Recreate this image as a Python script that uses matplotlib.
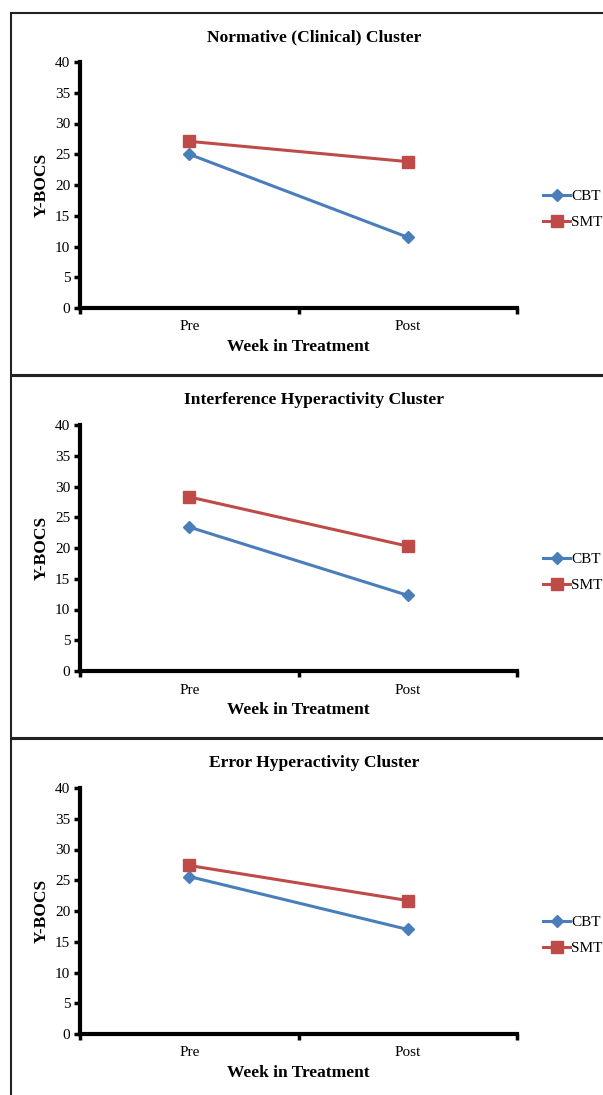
import matplotlib.pyplot as plt
from matplotlib.patches import Rectangle

plt.rcParams['font.family'] = ['Liberation Serif', 'DejaVu Serif']

titles = ["Normative (Clinical) Cluster",
          "Interference Hyperactivity Cluster",
          "Error Hyperactivity Cluster"]
weeks = ["Pre", "Post"]
cbt = [[25.0, 11.5], [23.4, 12.3], [25.6, 17.0]]
smt = [[27.1, 23.8], [28.3, 20.3], [27.4, 21.7]]

W, H = 603, 1095
fig = plt.figure(figsize=(W / 100, H / 100), dpi=100)

blue = "#4A7EBB"
red = "#BE4B48"

# panel frames (pixel coords, top/bottom)
frames = [(13, 375), (376, 738), (739, 1110)]
ax_top = [62, 425, 788]
ax_h = 246
ax_left, ax_right = 80, 517

for i in range(3):
    t, b = frames[i]
    fig.patches.append(Rectangle((11 / W, 1 - b / H), (W + 20) / W, (b - t) / H,
                                 transform=fig.transFigure, fill=False,
                                 ec="#222222", lw=1.5, zorder=0))

    top = ax_top[i]
    ax = fig.add_axes([ax_left / W, 1 - (top + ax_h) / H,
                       (ax_right - ax_left) / W, ax_h / H])
    x = list(range(len(weeks)))
    ax.plot(x, cbt[i], color=blue, lw=2.2, marker="D", ms=6.5, label="CBT")
    ax.plot(x, smt[i], color=red, lw=2.2, marker="s", ms=8.5, label="SMT")

    ax.set_xlim(-0.5, 1.5)
    ax.set_ylim(0, 40)
    ax.set_yticks(range(0, 41, 5))
    ax.set_xticks(x)
    ax.set_xticklabels(weeks)
    ax.set_xticks([-0.5, 0.5, 1.5], minor=True)
    ax.tick_params(axis="x", which="major", length=0, labelsize=11, pad=9)
    ax.tick_params(axis="x", which="minor", length=4, width=2.5, direction="out")
    ax.tick_params(axis="y", length=4, width=2.5, labelsize=11, pad=3)
    for s in ["top", "right"]:
        ax.spines[s].set_visible(False)
    for s in ["left", "bottom"]:
        ax.spines[s].set_linewidth(3)

    ax.set_title(titles[i], fontsize=12.6, fontweight="bold", pad=15, x=0.535)
    ax.set_ylabel("Y-BOCS", fontsize=12.5, fontweight="bold", labelpad=4)
    ax.set_xlabel("Week in Treatment", fontsize=12.5, fontweight="bold", labelpad=4)

    ax.legend(loc="center left", bbox_to_anchor=(1.035, 0.40), frameon=False,
              fontsize=11, handlelength=1.8, handletextpad=0.05, labelspacing=0.8,
              borderpad=0.2)

fig.savefig("out.png", dpi=100)
